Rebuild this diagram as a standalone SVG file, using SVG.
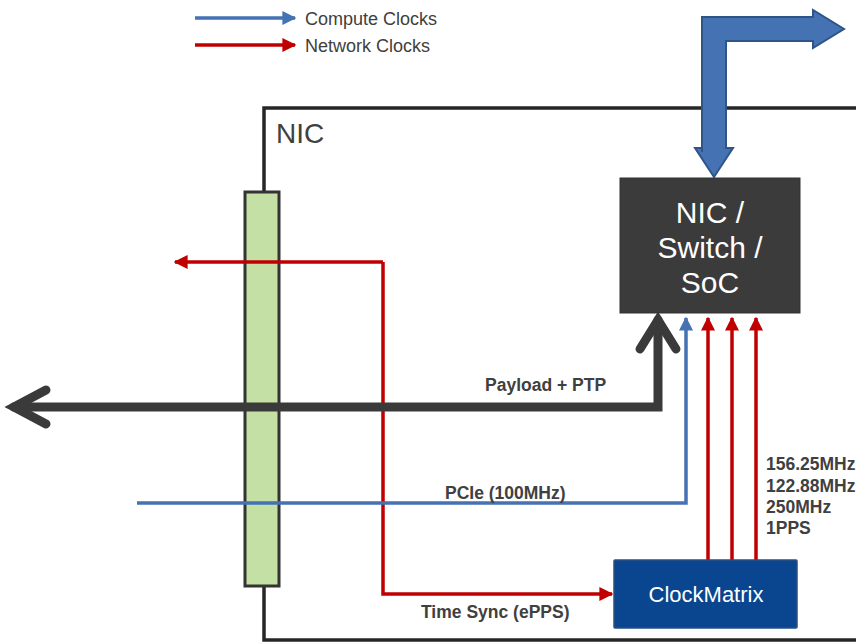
<svg xmlns="http://www.w3.org/2000/svg" width="856" height="642" viewBox="0 0 856 642">
<style>
text{font-family:"Liberation Sans",Arial,sans-serif}
.lbl{font-size:17.5px;font-weight:bold;fill:#404040}
.leg{font-size:18px;fill:#404040}
.red{stroke:#c00000;stroke-width:3.5;fill:none}
.blue{stroke:#4572b2;stroke-width:3.5;fill:none}
.dark{stroke:#3a3a3a;stroke-width:9;fill:none;stroke-linecap:round;stroke-linejoin:miter}
.wt{fill:#ffffff;text-anchor:middle}
</style>
<defs>
<marker id="ar" viewBox="0 0 10 10" refX="9" refY="5" markerWidth="4" markerHeight="4" orient="auto" markerUnits="strokeWidth"><path d="M0,0 L10,5 L0,10 z" fill="#c00000"/></marker>
<marker id="ab" viewBox="0 0 10 10" refX="9" refY="5" markerWidth="4" markerHeight="4" orient="auto" markerUnits="strokeWidth"><path d="M0,0 L10,5 L0,10 z" fill="#4572b2"/></marker>
</defs>
<rect width="856" height="642" fill="#ffffff"/>

<g id="legend">
<line x1="195" y1="18" x2="295" y2="18" class="blue" marker-end="url(#ab)"/>
<text x="305" y="25" class="leg">Compute Clocks</text>
<line x1="195" y1="45" x2="295" y2="45" class="red" marker-end="url(#ar)"/>
<text x="305" y="52" class="leg">Network Clocks</text>
</g>

<g id="nic">
<path d="M264,192 V108 H856" fill="none" stroke="#262626" stroke-width="3.5"/>
<path d="M264,586 V640 H856" fill="none" stroke="#262626" stroke-width="3.5"/>
<text x="276" y="143" font-size="28" fill="#404040">NIC</text>
</g>

<g id="uplink">
<path d="M702,152 V17 H813 V10 L844,29 L813,48 V41 H726 V148 H733 L714,177 L695,148 H702 Z" fill="#4572b2" stroke="#2f5488" stroke-width="2"/>
</g>

<g id="bar">
<rect x="245" y="192" width="34" height="394" fill="#c5e0a5" stroke="#333333" stroke-width="3"/>
</g>

<g id="connectors">
<polyline points="383,262 383,594 612,594" class="red" marker-end="url(#ar)"/>
<polyline points="383,262 175,262" class="red" marker-end="url(#ar)"/>
<polyline points="137,503 686,503 686,318" class="blue" marker-end="url(#ab)"/>
<line x1="708" y1="560" x2="708" y2="318" class="red" marker-end="url(#ar)"/>
<line x1="732" y1="560" x2="732" y2="318" class="red" marker-end="url(#ar)"/>
<line x1="756" y1="560" x2="756" y2="318" class="red" marker-end="url(#ar)"/>
<polyline points="14,407 658,407 658,320" class="dark"/>
<polyline points="46,390 14,407 46,424" class="dark" stroke-linejoin="round"/>
<polyline points="640,349 658,320 676,349" class="dark" stroke-linejoin="round"/>
</g>

<g id="labels">
<text x="485" y="391" class="lbl">Payload + PTP</text>
<text x="445" y="499" class="lbl">PCIe (100MHz)</text>
<text x="421" y="618" class="lbl">Time Sync (ePPS)</text>
<text x="766" y="470" class="lbl">156.25MHz</text>
<text x="766" y="492" class="lbl">122.88MHz</text>
<text x="766" y="513" class="lbl">250MHz</text>
<text x="766" y="534" class="lbl">1PPS</text>
</g>

<g id="soc">
<rect x="620" y="178" width="180" height="135" fill="#3b3b3b" stroke="#333333" stroke-width="1"/>
<text x="710" y="223" font-size="30" class="wt">NIC /</text>
<text x="710" y="258" font-size="30" class="wt">Switch /</text>
<text x="710" y="293" font-size="30" class="wt">SoC</text>
</g>

<g id="clockmatrix">
<rect x="614" y="560" width="183" height="68" fill="#0a4690" stroke="#2a4f80" stroke-width="1.5" rx="1"/>
<text x="706" y="602" font-size="22" class="wt">ClockMatrix</text>
</g>
</svg>
